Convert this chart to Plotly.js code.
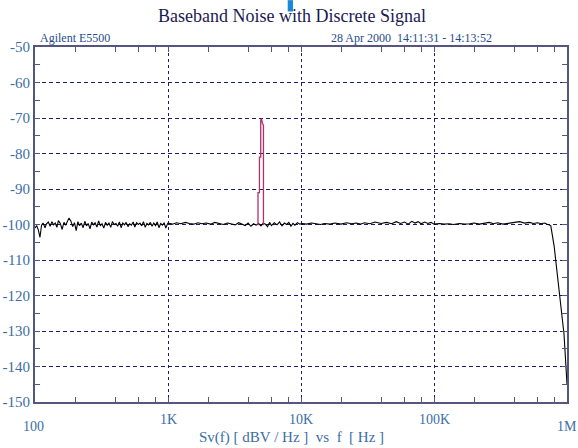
<!DOCTYPE html>
<html>
<head>
<meta charset="utf-8">
<script src="https://cdn.plot.ly/plotly-3.0.1.min.js"></script>
<style>
html,body{margin:0;padding:0;background:#fff;}
#chart{width:578px;height:448px;}
</style>
</head>
<body>
<div id="chart"></div>
<script>
// ---- data ----
const noiseFreqLow = [100,103,106,109,112,115,119,122,126,130,
134,138,142,146,150,155,160,165,170,175,
180,186,192,198,204,210,216,223,230,237,
244,251,259,267,275,283,292,301,310,319,
329,339,349,360,371,382,394,406,418,431,
444,457,471,485,500,515,531,547,563,580,
598,616,635,654,674,694,715,737,759,782,
806,830,855,881,908,935,963,992];
const noiseValLow = [-101.0,-100.3,-101.6,-103.6,-100.2,-99.6,-100.9,-99.8,-99.3,-100.5,
-99.2,-100.1,-99.6,-100.8,-98.9,-99.7,-101.4,-99.4,-100.2,-99.1,
-98.2,-99.0,-100.6,-99.5,-101.7,-99.2,-100.3,-99.6,-100.9,-99.1,
-100.4,-99.7,-101.2,-99.3,-100.1,-99.5,-100.7,-99.0,-100.3,-99.8,
-101.0,-99.4,-100.2,-99.6,-100.8,-99.2,-100.0,-99.7,-100.5,-99.3,
-100.9,-99.6,-100.1,-99.4,-100.6,-99.8,-100.2,-99.3,-100.7,-99.5,
-100.0,-99.6,-100.4,-99.2,-100.8,-99.7,-100.1,-99.4,-100.5,-99.6,
-100.3,-99.3,-100.9,-99.7,-100.2,-99.5,-101.0,-99.8];

const noiseFreqMid = [1000,1080,1160,1250,1350,1450,1560,1680,1800,1940,
2090,2250,2420,2600,2800,3000,3200,3400,3600,3800,
4000,4200,4400,4600,4800,5000,5200,5400,5600,5800,
6000,6300,6600,6900,7200,7500,7800,8100,8400,8700,
9000,9400,9800,10200,11000,12000,13000,14000,15000,16500,
18000,20000,22000,24000,26000,28000,30000,33000,36000,40000,
44000,48000,52000,56000,60000,64000,68000,72000,76000,80000,
85000,90000,95000,100000,110000,120000,130000,140000,155000,170000,
185000,200000,220000,240000,260000,280000,300000,330000,360000,400000,
440000,480000,520000,560000,600000,640000,680000,710000,735000,755000];
const noiseValMid = [-99.6,-99.9,-99.5,-99.8,-99.4,-99.7,-99.9,-99.5,-99.8,-99.6,
-99.9,-99.4,-99.7,-100.0,-99.6,-99.8,-100.1,-99.5,-99.9,-100.3,
-99.6,-100.5,-99.8,-100.2,-99.7,-100.4,-99.6,-99.9,-100.6,-99.4,
-100.3,-99.5,-100.1,-99.3,-100.4,-99.6,-100.0,-99.4,-100.5,-99.7,
-100.2,-99.5,-99.9,-99.7,-99.9,-99.6,-99.8,-100.0,-99.7,-99.9,
-99.6,-99.9,-99.5,-99.8,-99.6,-99.9,-99.5,-99.8,-99.3,-99.7,
-99.4,-99.8,-99.2,-99.7,-99.3,-99.9,-99.1,-99.6,-99.2,-99.8,
-99.3,-99.7,-99.4,-99.9,-99.7,-99.9,-99.8,-100.0,-99.7,-99.9,
-99.8,-99.6,-99.9,-99.7,-99.4,-99.8,-99.5,-99.9,-99.7,-99.5,
-99.2,-99.6,-99.4,-99.7,-99.5,-99.8,-99.6,-99.9,-100.1,-100.3];

const rolloffFreq = [800000,850000,900000,950000,1000000];
const rolloffVal = [-106,-115,-123,-131,-145];

const signalFreq = [4700,4750,4750,4870,4870,4980,4980,5050,5130,5220,5220,5260];
const signalVal = [-100,-100,-91,-91,-81,-81,-70.5,-70.3,-71.5,-72,-100,-100];

const xMajorTicks = [100,1000,10000,100000,1000000];
const xTickLabels = ['100','1K','10K','100K','1M'];
const xMinorTicks = [200,400,600,800,2000,4000,6000,8000,20000,40000,60000,80000,200000,400000,600000,800000];
const yTickVals = [-150,-140,-130,-120,-110,-100,-90,-80,-70,-60,-50];
const yTickLabels = ['-150','-140','-130','-120','-110','-100','-90','-80','-70','-60','-50'];

const titleText = 'Baseband Noise with Discrete Signal';
const leftNote = 'Agilent E5500';
const rightNote = '28 Apr 2000\u00a0\u00a014:11:31 - 14:13:52';
const axisText = 'Sv(f) [ dBV / Hz ]\u00a0\u00a0vs\u00a0\u00a0f\u00a0\u00a0[ Hz ]';

// ---- styles ----
const serif = 'Liberation Serif';
const axisCol = '#55557f';
const gridCol = '#1c1c6e';
const labelCol = '#3b6ea5';

const noiseTrace = {
  x: noiseFreqLow.concat(noiseFreqMid, rolloffFreq),
  y: noiseValLow.concat(noiseValMid, rolloffVal),
  type: 'scatter', mode: 'lines',
  line: {color: '#000000', width: 1.1},
  hoverinfo: 'skip'
};
const signalTrace = {
  x: signalFreq, y: signalVal,
  type: 'scatter', mode: 'lines',
  line: {color: '#b3306b', width: 1.3},
  hoverinfo: 'skip'
};

const annotations = [];
xMajorTicks.forEach((v, i) => {
  const edge = (i === 0 || i === xMajorTicks.length - 1);
  annotations.push({
    x: Math.log10(v), xref: 'x', y: edge ? -0.07 : -0.05, yref: 'paper',
    text: xTickLabels[i], showarrow: false,
    xanchor: 'center',
    xshift: i === 0 ? -2 : 0,
    yanchor: 'middle',
    font: {family: serif, size: 14, color: labelCol}
  });
});
annotations.push({x: 0.006, xref: 'paper', y: 1.0, yref: 'paper', yanchor: 'bottom', xanchor: 'left',
  text: leftNote, showarrow: false, font: {family: serif, size: 12, color: '#1f4b8c'}});
annotations.push({x: 0.863, xref: 'paper', y: 1.0, yref: 'paper', yanchor: 'bottom', xanchor: 'right',
  text: rightNote, showarrow: false, font: {family: serif, size: 12, color: '#1f4b8c'}});
annotations.push({x: 0.483, xref: 'paper', y: -0.101, yref: 'paper', yanchor: 'middle', xanchor: 'center',
  text: axisText, showarrow: false, font: {family: serif, size: 15, color: labelCol}});

const layout = {
  width: 578, height: 448,
  margin: {l: 35, r: 11, t: 47, b: 46},
  paper_bgcolor: '#ffffff', plot_bgcolor: '#ffffff',
  showlegend: false,
  title: {text: titleText, x: 0.483, xref: 'paper', xanchor: 'center', y: 0.965, yanchor: 'middle',
    font: {family: serif, size: 18, color: '#1a1a50'}},
  xaxis: {
    type: 'log', range: [2, 6],
    tickvals: xMajorTicks, showticklabels: false,
    ticks: 'inside', ticklen: 5, tickcolor: axisCol, tickwidth: 1,
    showgrid: true, gridcolor: gridCol, griddash: '3px,3px', gridwidth: 1,
    showline: true, linecolor: axisCol, linewidth: 2, mirror: 'ticks',
    zeroline: false,
    minor: {tickvals: xMinorTicks, ticks: 'inside', ticklen: 5, tickcolor: axisCol, showgrid: false}
  },
  yaxis: {
    range: [-150, -50],
    tickvals: yTickVals, ticktext: yTickLabels,
    ticks: 'inside', ticklen: 5, tickcolor: axisCol,
    tickfont: {family: serif, size: 15, color: labelCol},
    ticklabelstandoff: 0,
    showgrid: true, gridcolor: gridCol, griddash: '4px,3px', gridwidth: 1,
    showline: true, linecolor: axisCol, linewidth: 2, mirror: 'ticks',
    zeroline: false,
    minor: {dtick: 5, tick0: -150, ticks: 'inside', ticklen: 5, tickcolor: axisCol, showgrid: false}
  },
  annotations: annotations,
  shapes: [{type: 'rect', xref: 'paper', yref: 'paper', x0: 0.475, x1: 0.485, y0: 1.10, y1: 1.132,
    fillcolor: '#1a8ad8', line: {width: 0}, layer: 'above'}]
};

Plotly.newPlot('chart', [noiseTrace, signalTrace], layout, {displayModeBar: false, staticPlot: true});
</script>
</body>
</html>
